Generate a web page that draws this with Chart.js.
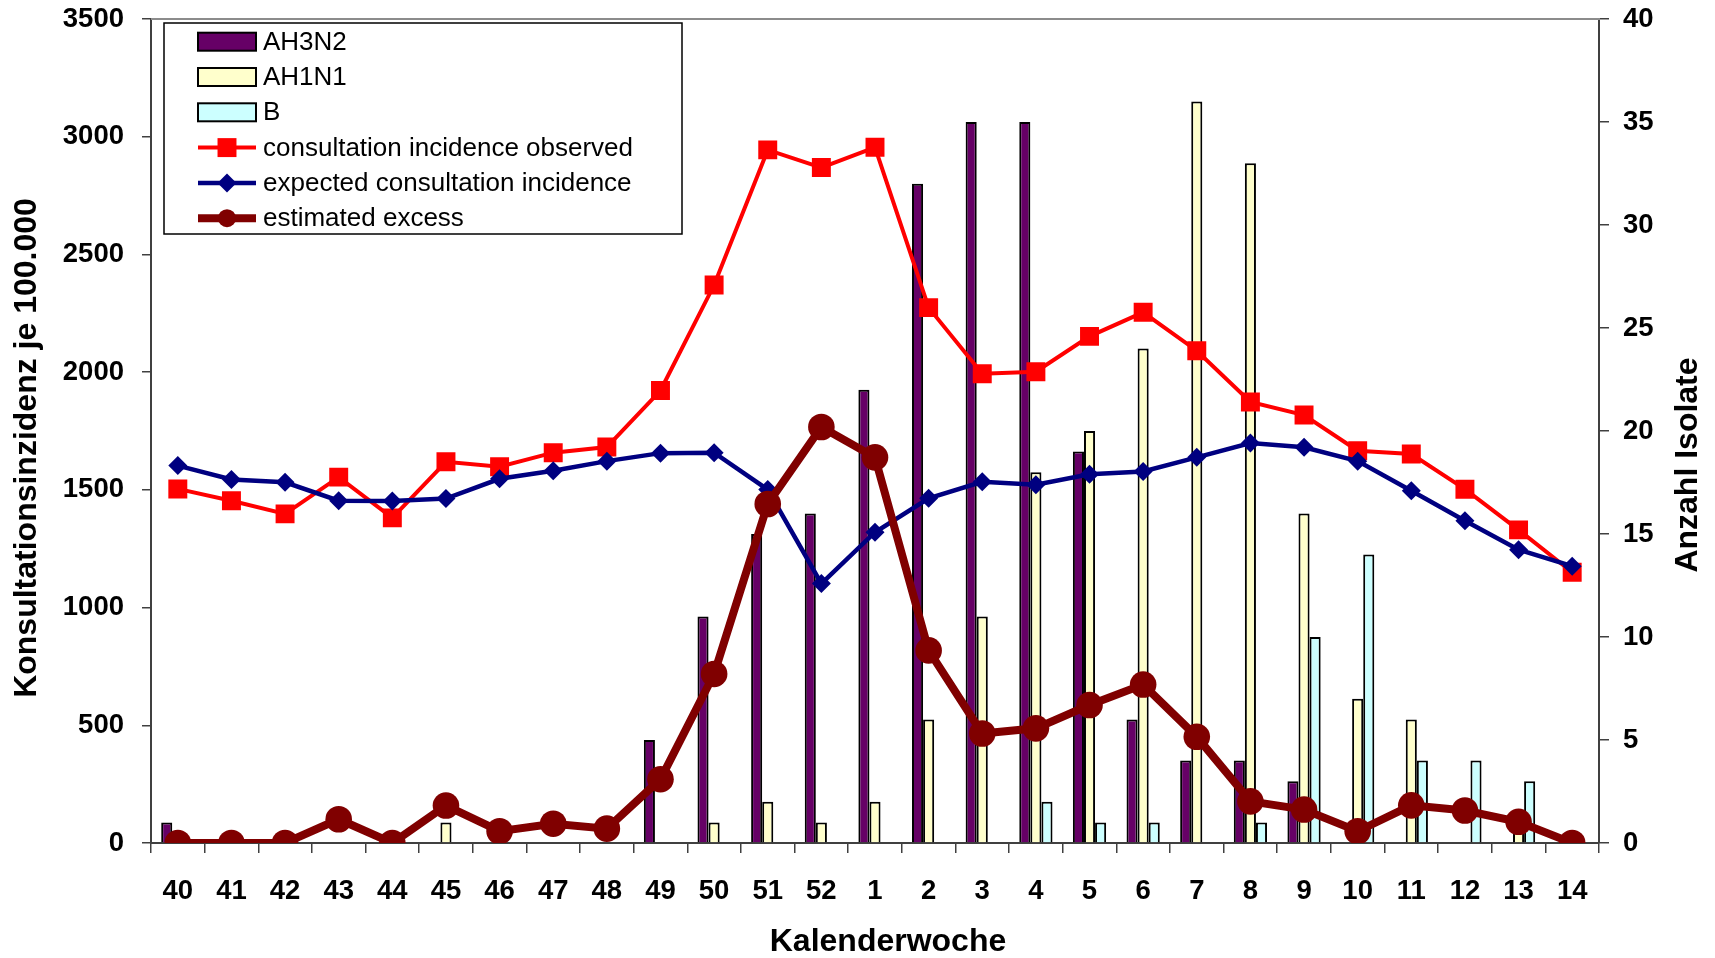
<!DOCTYPE html>
<html>
<head>
<meta charset="utf-8">
<script src="https://cdn.jsdelivr.net/npm/chart.js@4.4.1/dist/chart.umd.min.js"></script>
<style>
  html, body { margin: 0; padding: 0; background: #fff; }
  #wrap { width: 1715px; height: 958px; position: relative; }
</style>
</head>
<body>
<div id="wrap"><canvas id="chart"></canvas></div>
<script>
// calendar weeks of the season
const weeks = ['40','41','42','43','44','45','46','47','48','49','50','51','52',
               '1','2','3','4','5','6','7','8','9','10','11','12','13','14'];

// isolates per week (right axis)
const ah3n2 = [1,0,0,0,0,0,0,0,0,5,11,15,16,22,32,35,35,19,6,4,4,3,0,0,0,0,0];
const ah1n1 = [0,0,0,0,0,1,0,0,0,0,1,2,1,2,6,11,18,20,24,36,33,16,7,6,0,1,0];
const typeB = [0,0,0,0,0,0,0,0,0,0,0,0,0,0,0,0,2,1,1,0,1,10,14,4,4,3,0];

// consultation incidence per 100.000 (left axis)
const observed = [1504,1454,1398,1554,1381,1619,1598,1658,1682,1922,2370,2944,2869,
                  2955,2274,1993,2002,2152,2254,2091,1873,1818,1666,1652,1503,1330,1150];
const expected = [1603,1544,1532,1454,1453,1463,1547,1581,1622,1656,1658,1501,1102,
                  1320,1464,1534,1522,1566,1578,1638,1699,1681,1622,1496,1369,1246,1176];
const excess = [0,0,0,101,0,159,50,82,61,271,718,1440,1767,
                1638,818,465,487,586,673,451,177,142,50,160,138,90,0];

const leftTicks = { min: 0, max: 3500, step: 500 };
const rightTicks = { min: 0, max: 40, step: 5 };

const xTitle = 'Kalenderwoche';
const yTitle = 'Konsultationsinzidenz je 100.000';
const y2Title = 'Anzahl Isolate';

const FONT = '"Liberation Sans", Arial, Helvetica, sans-serif';
Chart.defaults.font.family = FONT;

const tickFont = { family: FONT, size: 27.5, weight: 'bold' };
const axisColor = '#404040';

// gray line on top of the plot area
const frame = {
  id: 'frame',
  beforeDatasetsDraw(chart) {
    const { ctx, chartArea: a } = chart;
    ctx.save();
    ctx.strokeStyle = '#8c8c8c';
    ctx.lineWidth = 2;
    ctx.beginPath();
    ctx.moveTo(a.left, a.top);
    ctx.lineTo(a.right + 1, a.top);
    ctx.stroke();
    ctx.restore();
  }
};

// axis titles (right one reads bottom-to-top like the left one)
const titles = {
  id: 'titles',
  afterDraw(chart) {
    const { ctx, chartArea: a } = chart;
    ctx.save();
    ctx.font = 'bold 32px ' + FONT;
    ctx.fillStyle = '#000';
    ctx.textAlign = 'center';
    ctx.textBaseline = 'middle';
    ctx.fillText(xTitle, (a.left + a.right) / 2 + 13, chart.height - 16);

    ctx.save();
    ctx.translate(27, (a.top + a.bottom) / 2 + 17);
    ctx.rotate(-Math.PI / 2);
    ctx.fillText(yTitle, 0, 0);
    ctx.restore();

    ctx.save();
    ctx.translate(chart.width - 27, (a.top + a.bottom) / 2 + 34);
    ctx.rotate(-Math.PI / 2);
    ctx.fillText(y2Title, 0, 0);
    ctx.restore();
    ctx.restore();
  }
};

// boxed legend in the top-left corner of the plot
const boxLegend = {
  id: 'boxLegend',
  afterDraw(chart) {
    const { ctx, chartArea: a } = chart;
    const x0 = a.left + 13, y0 = a.top + 4;
    const w = 518, h = 211;
    const rowH = 35.3;
    ctx.save();
    ctx.fillStyle = '#fff';
    ctx.fillRect(x0, y0, w, h);
    ctx.strokeStyle = '#000';
    ctx.lineWidth = 1.5;
    ctx.strokeRect(x0, y0, w, h);

    chart.data.datasets.forEach((ds, i) => {
      const cy = y0 + 18.7 + i * rowH;
      const sx = x0 + 34, sw = 58;
      if (ds.type === 'line') {
        ctx.strokeStyle = ds.borderColor;
        ctx.lineWidth = ds.borderWidth;
        ctx.beginPath();
        ctx.moveTo(sx, cy);
        ctx.lineTo(sx + sw, cy);
        ctx.stroke();
        ctx.fillStyle = ds.backgroundColor;
        Chart.helpers.drawPoint(ctx, {
          pointStyle: ds.pointStyle,
          radius: ds.legendRadius,
          rotation: 0,
          borderWidth: 0
        }, sx + sw / 2, cy);
      } else {
        ctx.fillStyle = ds.backgroundColor;
        ctx.fillRect(sx, cy - 9, sw, 18);
        ctx.strokeStyle = '#000';
        ctx.lineWidth = 2;
        ctx.strokeRect(sx, cy - 9, sw, 18);
      }
      ctx.fillStyle = '#000';
      ctx.font = '26px ' + FONT;
      ctx.textAlign = 'left';
      ctx.textBaseline = 'middle';
      ctx.fillText(ds.label, sx + sw + 7, cy + 1);
    });
    ctx.restore();
  }
};

const barStyle = {
  type: 'bar',
  yAxisID: 'y2',
  borderColor: '#000',
  borderWidth: 2,
  categoryPercentage: 0.62,
  barPercentage: 1.0,
  order: 3
};

new Chart(document.getElementById('chart'), {
  type: 'bar',
  data: {
    labels: weeks,
    datasets: [
      Object.assign({ label: 'AH3N2', data: ah3n2, backgroundColor: '#660066' }, barStyle),
      Object.assign({ label: 'AH1N1', data: ah1n1, backgroundColor: '#FFFFCC' }, barStyle),
      Object.assign({ label: 'B', data: typeB, backgroundColor: '#CCFFFF' }, barStyle),
      {
        type: 'line', label: 'consultation incidence observed', data: observed, yAxisID: 'y',
        borderColor: '#FF0000', backgroundColor: '#FF0000', borderWidth: 4,
        pointStyle: 'rect', pointRadius: 13.4, pointBorderWidth: 0, legendRadius: 13.4,
        tension: 0, order: 2
      },
      {
        type: 'line', label: 'expected consultation incidence', data: expected, yAxisID: 'y',
        borderColor: '#000080', backgroundColor: '#000080', borderWidth: 4.5,
        pointStyle: 'rectRot', pointRadius: 9.5, pointBorderWidth: 0, legendRadius: 9.5,
        tension: 0, order: 1
      },
      {
        type: 'line', label: 'estimated excess', data: excess, yAxisID: 'y',
        borderColor: '#800000', backgroundColor: '#800000', borderWidth: 8,
        pointStyle: 'circle', pointRadius: 13.3, pointBorderWidth: 0, legendRadius: 9,
        tension: 0, order: 0
      }
    ]
  },
  options: {
    responsive: true,
    maintainAspectRatio: false,
    animation: false,
    events: [],
    layout: { padding: { top: 19, left: 0, right: 0, bottom: 0 } },
    plugins: {
      legend: { display: false },
      tooltip: { enabled: false }
    },
    scales: {
      x: {
        grid: { display: true, drawOnChartArea: false, drawTicks: true, tickLength: 10,
                color: axisColor, lineWidth: 1.5, offset: true },
        border: { display: true, color: axisColor, width: 2 },
        ticks: { font: tickFont, color: '#000', padding: 22, maxRotation: 0, autoSkip: false },
        afterFit(s) { s.height = 115; s.paddingLeft = 0; s.paddingRight = 0; }
      },
      y: {
        position: 'left',
        min: leftTicks.min, max: leftTicks.max,
        grid: { drawOnChartArea: false, tickLength: 9, color: axisColor, lineWidth: 1.5 },
        border: { color: axisColor, width: 2 },
        ticks: { stepSize: leftTicks.step, padding: 18, font: tickFont, color: '#000',
                 callback: v => String(v) },
        afterFit(s) { s.width = 151; s.paddingTop = 0; s.paddingBottom = 0; }
      },
      y2: {
        position: 'right',
        min: rightTicks.min, max: rightTicks.max,
        grid: { drawOnChartArea: false, tickLength: 10, color: axisColor, lineWidth: 1.5 },
        border: { color: axisColor, width: 2 },
        ticks: { stepSize: rightTicks.step, padding: 14, font: tickFont, color: '#000',
                 callback: v => String(v) },
        afterFit(s) { s.width = 116; s.paddingTop = 0; s.paddingBottom = 0; }
      }
    }
  },
  plugins: [frame, titles, boxLegend]
});
</script>
</body>
</html>
